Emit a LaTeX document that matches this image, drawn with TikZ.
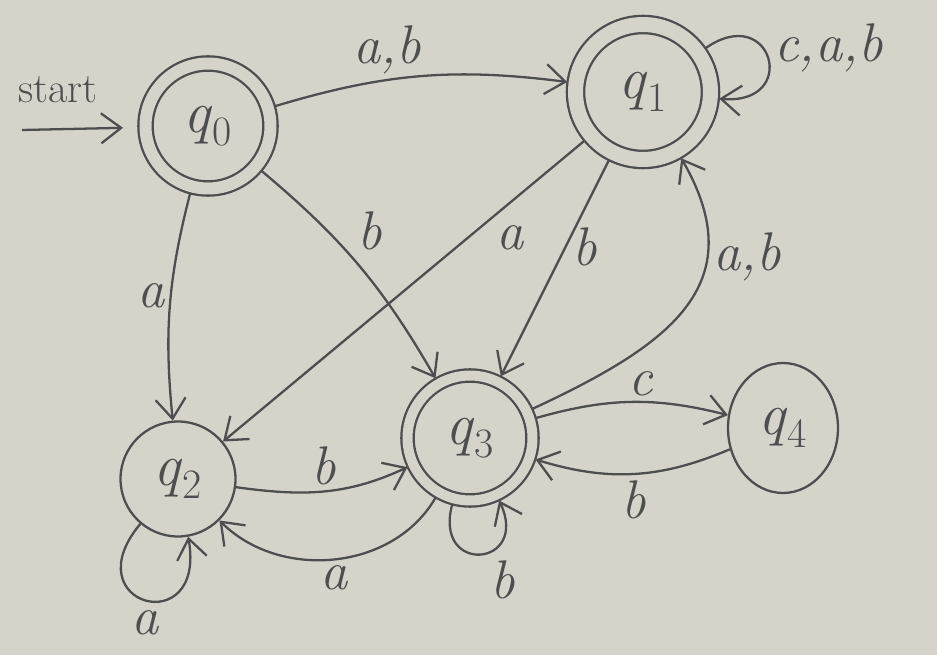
\documentclass[tikz,border=0pt]{standalone}
\usepackage{fontspec}
\usetikzlibrary{arrows.meta,shapes.geometric}
\definecolor{paper}{RGB}{214,211,203}
\definecolor{pencil}{RGB}{78,78,78}
\newcommand{\qs}[1]{\textit{q}\textsubscript{#1}}
\begin{document}
\begin{tikzpicture}[x=0.02cm,y=-0.02cm,
  ink/.style={draw=pencil, line width=1.3pt},
  st/.style={ink, circle, inner sep=0pt, font=\fontsize{34}{38}\selectfont, text=pencil},
  ellst/.style={ink, ellipse, inner sep=0pt, font=\fontsize{34}{38}\selectfont, text=pencil},
  accst/.style={st, double=paper, double distance=#1},
  lab/.style={font=\itshape\fontsize{31}{35}\selectfont, text=pencil, inner sep=3pt},
  tr/.style={ink, -{Straight Barb[length=4mm,width=6mm,line width=1.3pt]}}
]
\fill[paper] (0,0) rectangle (937,655);
\useasboundingbox (0,0) rectangle (937,655);

% states
\node[accst=0.24cm, minimum size=2.5cm, outer sep=0.15cm] (q0) at (208,126) {\qs{0}};
\node[accst=0.3cm, minimum size=2.7cm, outer sep=0.18cm] (q1) at (643,92) {\qs{1}};
\node[st, minimum size=2.3cm] (q2) at (178,479) {\qs{2}};
\node[accst=0.2cm, minimum size=2.5cm, outer sep=0.13cm] (q3) at (470,438) {\qs{3}};
\node[ellst, minimum width=2.2cm, minimum height=2.6cm] (q4) at (783,428) {\qs{4}};

% start
\node[lab, font=\fontsize{24}{28}\selectfont] (stxt) at (58,90) {start};
\coordinate (s) at (22,130);
\draw[tr, shorten >=0.3cm] (s) -- (q0);

% transitions
\draw[tr] (q0) to[bend left=12] node[lab, above, pos=0.38] {a,b} (q1);
\draw[tr] (q1) to[out=35, in=-5, looseness=4] node[lab, anchor=west, pos=0.5, yshift=6pt] {c,a,b} (q1);
\draw[tr] (q0) to[bend right=10] node[lab, left, pos=0.45] {a} (q2);
\draw[tr] (q0) to[bend left=10] node[lab, above right, pos=0.45] {b} (q3);
\draw[tr] (q1) -- node[lab, below right, pos=0.26] {a} (q2);
\draw[tr] (q1) -- node[lab, right, pos=0.4] {b} (q3);
\draw[tr] (q3) to[out=25, in=-60, looseness=1.3] node[lab, anchor=west, pos=0.7] {a,b} (q1);
\draw[tr] (q3) to[bend left=15] node[lab, above, pos=0.55] {c} (q4);
\draw[tr] (q4) to[bend left=20] node[lab, below] {b} (q3);
\draw[tr] (q2) to[out=-8, in=205] node[lab, above] {b} (q3);
\draw[tr] (q3) to[out=240, in=-45] node[lab, below] {a} (q2);
\draw[tr] (q2) to[out=230, in=-80, looseness=5.5] node[lab, below, yshift=-2pt] {a} (q2);
\draw[tr] (q3) to[out=255, in=295, looseness=4] node[lab, below right, xshift=2pt] {b} (q3);
\end{tikzpicture}
\end{document}
